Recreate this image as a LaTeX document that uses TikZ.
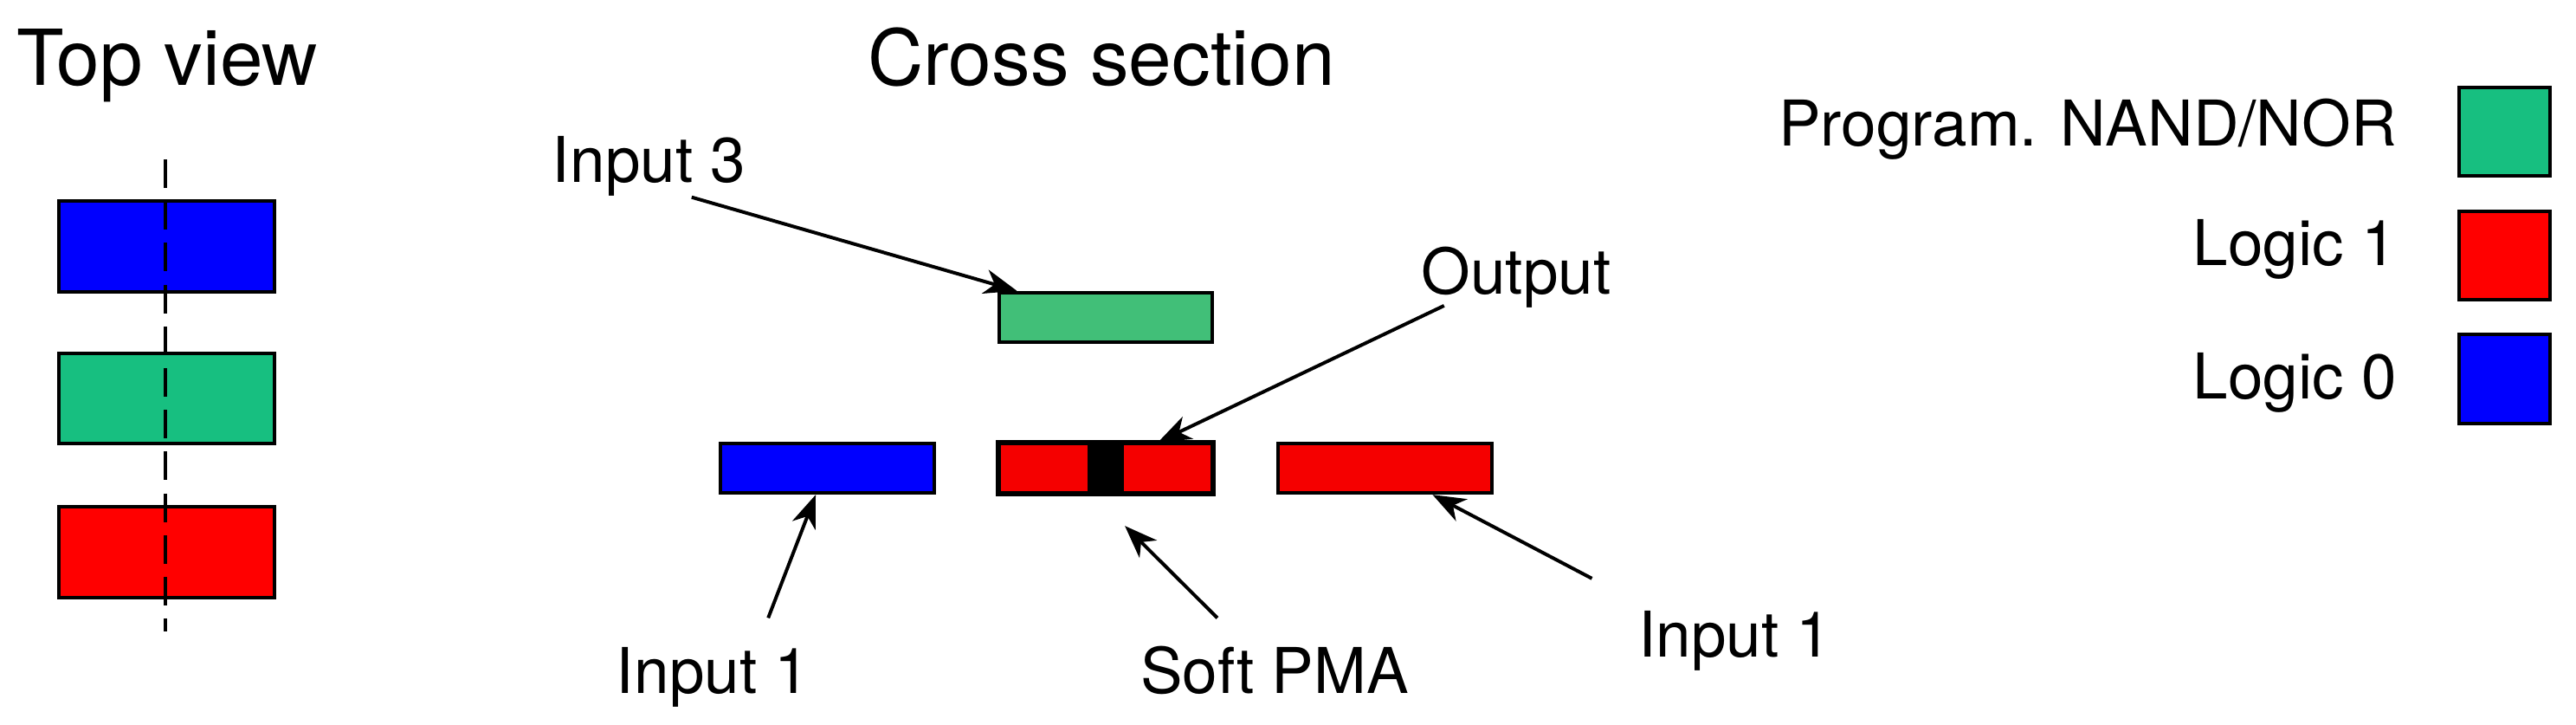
\documentclass[tikz,border=0pt]{standalone}
\usepackage{fontspec}
\setmainfont{TeX Gyre Heros}
\usetikzlibrary{arrows.meta,calc}
\definecolor{tvgreen}{RGB}{23,191,128}
\definecolor{csgreen}{RGB}{65,191,120}
\definecolor{csred}{RGB}{245,0,0}
\definecolor{pblue}{RGB}{0,0,255}
\definecolor{pred}{RGB}{255,0,0}
\begin{document}
\begin{tikzpicture}[x=1pt,y=-1pt,
  title/.style={anchor=base west,inner sep=0pt,font=\fontsize{47}{50}\selectfont},
  lbl/.style={anchor=base west,inner sep=0pt,font=\fontsize{38.4}{40}\selectfont},
  lgd/.style={anchor=base east,inner sep=0pt,font=\fontsize{38.4}{40}\selectfont},
  tvbox/.style={draw,line width=2.1pt,minimum width=131pt,minimum height=55pt,inner sep=0pt},
  csbox/.style={draw,line width=2.1pt,minimum width=130pt,minimum height=30pt,inner sep=0pt},
  lgbox/.style={draw,line width=2.1pt,minimum width=55pt,minimum height=54pt,inner sep=0pt},
  pointer/.style={line width=2.1pt,-{Stealth[length=20pt,width=15pt,inset=6pt]}}]
\useasboundingbox (0,0) rectangle (1568,441);
% titles
\node[title] (ttop) at (10,52) {Top view};
\node[title] (tcross) at (528,52) {Cross section};
% top view
\node[tvbox,fill=pblue] (tvb) at (101.5,150) {};
\node[tvbox,fill=tvgreen] (tvg) at (101.5,242.5) {};
\node[tvbox,fill=pred] (tvr) at (101.5,336) {};
\coordinate (dtop) at (100.5,97);
\coordinate (dbot) at (100.5,384);
\draw[line width=2.1pt,dash pattern=on 17.4pt off 8pt] (dtop) -- (dbot);
% cross section
\node[csbox,fill=csgreen] (cg) at (673,193) {};
\node[csbox,fill=pblue] (cb) at (503.5,285) {};
\node[csbox,fill=csred] (cm) at (673,285) {};
\node[draw,fill=black,line width=0pt,minimum width=22pt,minimum height=29pt,inner sep=0pt] (pma) at (673,285) {};
\node[csbox,fill=csred] (cr) at (843,285) {};
\draw[line width=2.1pt] (cm.north west) rectangle (cm.south east);
% labels
\node[lbl] (in3) at (336,110.7) {Input 3};
\node[lbl] (out) at (865,179) {Output};
\node[lbl] (in1a) at (375,421.7) {Input 1};
\node[lbl] (spma) at (694,421.7) {Soft PMA};
\node[lbl] (in1b) at (997,400) {Input 1};
% arrows
\coordinate (a3s) at (421,120);
\coordinate (a3e) at ($(cg.north west)+(12,0)$);
\draw[pointer] (a3s) -- (a3e);
\coordinate (aos) at (879,186);
\coordinate (aoe) at ($(cm.north)+(32,0)$);
\draw[pointer] (aos) -- (aoe);
\coordinate (a1s) at (467.6,376);
\coordinate (a1e) at ($(cb.south)+(-7,0)$);
\draw[pointer] (a1s) -- (a1e);
\coordinate (aps) at (741,376);
\coordinate (ape) at (684.7,320);
\draw[pointer] (aps) -- (ape);
\coordinate (a2s) at (969,352);
\coordinate (a2e) at ($(cr.south)+(29,0)$);
\draw[pointer] (a2s) -- (a2e);
% legend
\node[lgbox,fill=tvgreen] (lg) at (1524.5,80) {};
\node[lgbox,fill=pred] (lr) at (1524.5,155.5) {};
\node[lgbox,fill=pblue] (lb) at (1524.5,230.5) {};
\node[lgd] (lgt) at (1459,89) {Program. NAND/NOR};
\node[lgd] (lrt) at (1459,161.8) {Logic 1};
\node[lgd] (lbt) at (1459,242.5) {Logic 0};
\end{tikzpicture}
\end{document}
